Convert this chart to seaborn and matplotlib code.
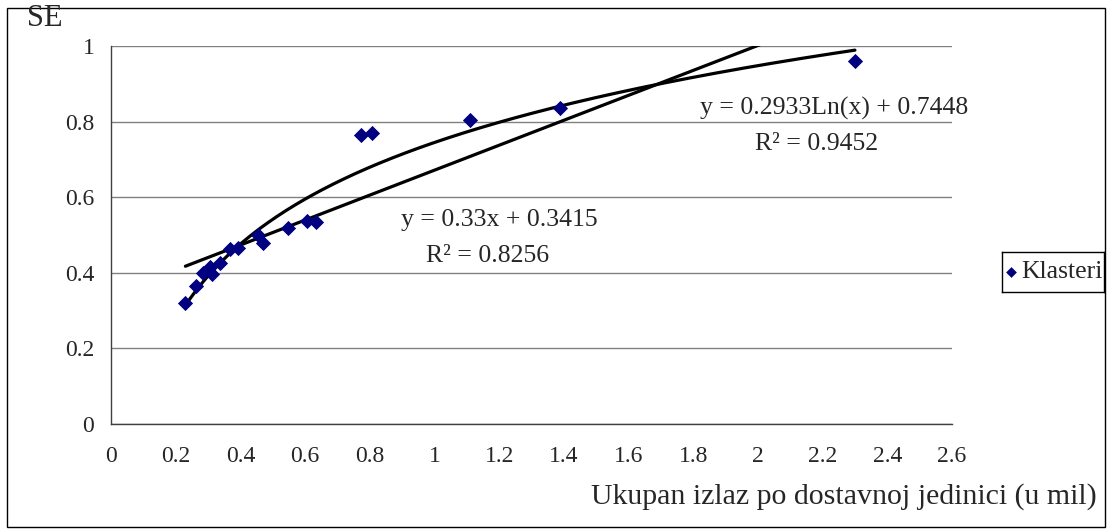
import numpy as np
import pandas as pd
import matplotlib
matplotlib.use("Agg")
import matplotlib.pyplot as plt
import seaborn as sns
from matplotlib.patches import Rectangle

# podaci ocitani sa grafika
izlaz = [0.23, 0.263, 0.285, 0.307, 0.313, 0.337, 0.368, 0.393, 0.455, 0.47,
         0.548, 0.607, 0.635, 0.774, 0.808, 1.111, 1.387, 2.30]
se = [0.320, 0.365, 0.400, 0.415, 0.397, 0.426, 0.463, 0.466, 0.500, 0.480,
      0.518, 0.537, 0.534, 0.765, 0.770, 0.803, 0.836, 0.960]

# koeficijenti trendova (iz jednacina na grafiku)
lin_a, lin_b = 0.33, 0.3415
log_a, log_b = 0.2933, 0.7448

x_ticks = [0, 0.2, 0.4, 0.6, 0.8, 1, 1.2, 1.4, 1.6, 1.8, 2, 2.2, 2.4, 2.6]
x_tick_labels = ["0", "0.2", "0.4", "0.6", "0.8", "1", "1.2", "1.4", "1.6",
                 "1.8", "2", "2.2", "2.4", "2.6"]
y_ticks = [0, 0.2, 0.4, 0.6, 0.8, 1]
y_tick_labels = ["0", "0.2", "0.4", "0.6", "0.8", "1"]

df = pd.DataFrame({"izlaz": izlaz, "SE": se})

sns.set_style("white")
plt.rcParams["font.family"] = ["Liberation Serif", "DejaVu Serif"]

fig = plt.figure(figsize=(11.09, 5.29), dpi=100)
ax = fig.add_axes([0.1001, 0.1985, 0.7583, 0.7145])

# trend linije
xs = np.linspace(min(izlaz), max(izlaz), 300)
ax.plot(xs, lin_a * xs + lin_b, color="black", lw=2.3, zorder=3)
ax.plot(xs, log_a * np.log(xs) + log_b, color="black", lw=2.3, zorder=3)

sns.scatterplot(data=df, x="izlaz", y="SE", marker="D", color="#000080",
                s=60, edgecolor="#000080", linewidth=0, ax=ax, zorder=4,
                legend=False)

ax.set_xlim(0, 2.6)
ax.set_ylim(0, 1)
ax.set_xticks(x_ticks)
ax.set_xticklabels(x_tick_labels)
ax.set_yticks(y_ticks)
ax.set_yticklabels(y_tick_labels)
ax.tick_params(axis="both", direction="out", length=7, width=1, color="#404040",
               labelsize=17, pad=5)
ax.tick_params(axis="x", pad=9)
ax.yaxis.grid(True, color="#808080", lw=1)
ax.set_axisbelow(True)
for s in ["top", "right"]:
    ax.spines[s].set_visible(False)
for s in ["left", "bottom"]:
    ax.spines[s].set_color("#404040")
    ax.spines[s].set_linewidth(1)
ax.set_xlabel("")
ax.set_ylabel("")

# jednacine trendova
ax.text(2.237, 0.835, "y = 0.2933Ln(x) + 0.7448", ha="center", va="center", fontsize=18.5)
ax.text(2.18, 0.742, "R² = 0.9452", ha="center", va="center", fontsize=18.5)
ax.text(1.2, 0.541, "y = 0.33x + 0.3415", ha="center", va="center", fontsize=18.5)
ax.text(1.163, 0.445, "R² = 0.8256", ha="center", va="center", fontsize=18.5)

fig.text(45 / 1109, 1 - 19 / 529, "SE", ha="center", va="center", fontsize=22)
fig.text(1097 / 1109, 1 - 497 / 529, "Ukupan izlaz po dostavnoj jedinici (u mil)",
         ha="right", va="center", fontsize=21.5)

# legenda
leg_ax = fig.add_axes([1002 / 1109, 1 - 292 / 529, 102 / 1109, 40 / 529])
leg_ax.set_xlim(0, 1)
leg_ax.set_ylim(0, 1)
leg_ax.set_xticks([])
leg_ax.set_yticks([])
for s in leg_ax.spines.values():
    s.set_color("black")
    s.set_linewidth(1)
leg_ax.scatter([0.09], [0.5], marker="D", color="#000080", s=30, linewidth=0)
leg_ax.text(0.19, 0.5, "Klasteri", ha="left", va="center", fontsize=18.5)

# okvir oko cijelog grafika
fig.patches.append(Rectangle((7 / 1109, 2 / 529), 1098 / 1109, 519 / 529,
                             transform=fig.transFigure, fill=False,
                             edgecolor="black", lw=1))

fig.savefig("out.png", dpi=100)
